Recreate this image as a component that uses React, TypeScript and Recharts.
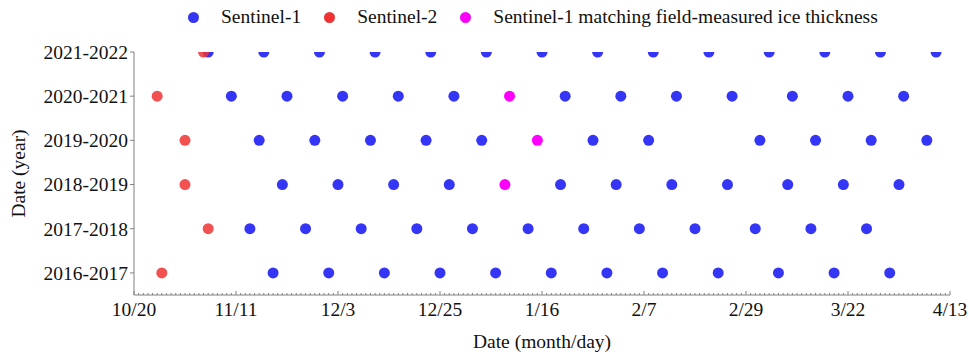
import { ScatterChart, Scatter, XAxis, YAxis, Legend } from "recharts";

const FONT = "'Liberation Serif', 'Times New Roman', serif";
const BLUE = "#3535F5";
const RED = "#F03232";
const MAGENTA = "#FF00FF";
const AXIS = "#808080";

const seasons = ["2016-2017", "2017-2018", "2018-2019", "2019-2020", "2020-2021", "2021-2022"];
const xTickLabels = ["10/20", "11/11", "12/3", "12/25", "1/16", "2/7", "2/29", "3/22", "4/13"];

// Sentinel-1 acquisitions (month/day), one array per season
const s1_2016_2017 = ["11/19", "12/1", "12/13", "12/25", "1/6", "1/18", "1/30", "2/11", "2/23", "3/7", "3/19", "3/31"];
const s1_2017_2018 = ["11/14", "11/26", "12/8", "12/20", "1/1", "1/13", "1/25", "2/6", "2/18", "3/2", "3/14", "3/26"];
const s1_2018_2019 = ["11/21", "12/3", "12/15", "12/27", "1/20", "2/1", "2/13", "2/25", "3/9", "3/21", "4/2"];
const s1_2019_2020 = ["11/16", "11/28", "12/10", "12/22", "1/3", "1/27", "2/8", "3/3", "3/15", "3/27", "4/8"];
const s1_2020_2021 = ["11/10", "11/22", "12/4", "12/16", "12/28", "1/21", "2/2", "2/14", "2/26", "3/10", "3/22", "4/3"];
const s1_2021_2022 = ["11/5", "11/17", "11/29", "12/11", "12/23", "1/4", "1/16", "1/28", "2/9", "2/21", "3/5", "3/17", "3/29", "4/10"];

// Sentinel-2 acquisition, one per season
const s2Dates = ["10/26", "11/5", "10/31", "10/31", "10/25", "11/4"];

// Sentinel-1 scene matching field-measured ice thickness (null = none)
const matchDates = [null, null, "1/8", "1/15", "1/9", null];

// day offset from 10/20 on a leap-year month/day axis
const monthOffset: Record<number, number> = { 10: -20, 11: 11, 12: 41, 1: 72, 2: 103, 3: 132, 4: 163 };
const toAxisDay = (md: string) => {
  const [m, d] = md.split("/").map(Number);
  return monthOffset[m] + d;
};

const s1ByYear = [s1_2016_2017, s1_2017_2018, s1_2018_2019, s1_2019_2020, s1_2020_2021, s1_2021_2022];
const s1Data = s1ByYear.flatMap((dates, i) => dates.map((d) => ({ x: toAxisDay(d), y: i + 1 })));
const s2Data = s2Dates.map((d, i) => ({ x: toAxisDay(d), y: i + 1 }));
const matchData = matchDates.flatMap((d, i) => (d ? [{ x: toAxisDay(d), y: i + 1 }] : []));

const lastDay = toAxisDay(xTickLabels[xTickLabels.length - 1]);
const dayTicks = Array.from({ length: lastDay + 1 }, (_, i) => i);
const majorTicks = xTickLabels.map(toAxisDay);

const dot = (color: string, opacity = 1) => (props: any) => (
  <circle cx={props.cx} cy={props.cy} r={5.5} fill={color} fillOpacity={opacity} />
);

const XTick = (props: any) => {
  const { x, y, payload } = props;
  const idx = majorTicks.indexOf(payload.value);
  const major = idx >= 0;
  return (
    <g>
      <line x1={x} x2={x} y1={y} y2={y - (major ? 4 : 2)} stroke={AXIS} strokeWidth={1} />
      {major && (
        <text x={x} y={y + 21} textAnchor="middle" fontFamily={FONT} fontSize={19.5} fill="#111">
          {xTickLabels[idx]}
        </text>
      )}
    </g>
  );
};

const legendItems = [
  { label: "Sentinel-1", color: BLUE },
  { label: "Sentinel-2", color: RED },
  { label: "Sentinel-1 matching field-measured ice thickness", color: MAGENTA },
];

const LegendContent = () => (
  <div
    style={{
      display: "flex",
      alignItems: "center",
      height: 30,
      paddingLeft: 188,
      fontFamily: FONT,
      fontSize: 19.5,
      color: "#111",
    }}
  >
    {legendItems.map((it) => (
      <div key={it.label} style={{ display: "flex", alignItems: "center", marginRight: 23 }}>
        <svg width={11} height={11}>
          <circle cx={5.5} cy={5.5} r={5.5} fill={it.color} />
        </svg>
        <span style={{ marginLeft: 22 }}>{it.label}</span>
      </div>
    ))}
  </div>
);

export default function App() {
  return (
    <div style={{ position: "absolute", left: 0, top: 0, background: "#fff" }}>
      <ScatterChart width={969} height={354} margin={{ top: 22, right: 19, bottom: 0, left: 0 }}>
        <Legend
          verticalAlign="top"
          content={<LegendContent />}
          wrapperStyle={{ top: 2, left: 0, width: 969 }}
        />
        <XAxis
          type="number"
          dataKey="x"
          domain={[0, lastDay]}
          ticks={dayTicks}
          interval={0}
          tick={<XTick />}
          tickLine={false}
          tickSize={0}
          tickMargin={0}
          height={59}
          axisLine={{ stroke: AXIS }}
          allowDataOverflow
          label={{
            content: (p: any) => {
              const vb = p.viewBox;
              return (
                <text x={vb.x + vb.width / 2} y={vb.y + 53} textAnchor="middle" fontFamily={FONT} fontSize={19.5} fill="#111">
                  Date (month/day)
                </text>
              );
            },
          }}
        />
        <YAxis
          type="number"
          dataKey="y"
          domain={[0.5, 6]}
          ticks={[1, 2, 3, 4, 5, 6]}
          tickFormatter={(v: number) => seasons[v - 1]}
          width={134}
          tickSize={4}
          tickMargin={2}
          tickLine={{ stroke: AXIS }}
          axisLine={{ stroke: AXIS }}
          tick={{ fill: "#111", fontSize: 19.5, fontFamily: FONT }}
          allowDataOverflow
          label={{
            content: (p: any) => {
              const vb = p.viewBox;
              const cx = 18;
              const cy = vb.y + vb.height / 2;
              return (
                <text
                  x={cx}
                  y={cy}
                  transform={`rotate(-90 ${cx} ${cy})`}
                  textAnchor="middle"
                  dominantBaseline="central"
                  fontFamily={FONT}
                  fontSize={19.5}
                  fill="#111"
                >
                  Date (year)
                </text>
              );
            },
          }}
        />
        <Scatter name="Sentinel-1" data={s1Data} shape={dot(BLUE)} isAnimationActive={false} />
        <Scatter name="Sentinel-2" data={s2Data} shape={dot(RED, 0.85)} isAnimationActive={false} />
        <Scatter
          name="Sentinel-1 matching field-measured ice thickness"
          data={matchData}
          shape={dot(MAGENTA)}
          isAnimationActive={false}
        />
      </ScatterChart>
    </div>
  );
}
